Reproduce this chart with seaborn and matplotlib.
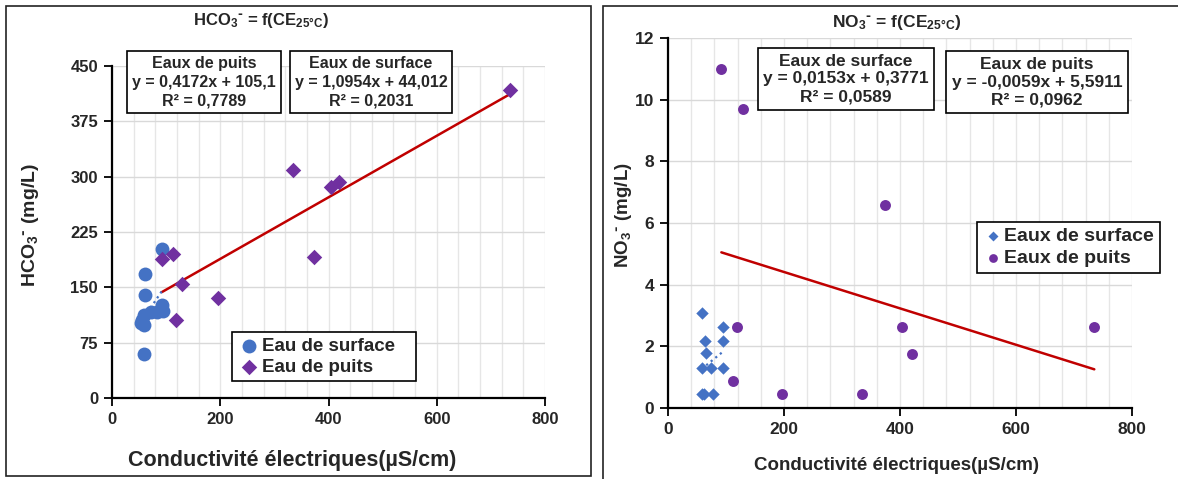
import matplotlib
matplotlib.use('Agg')
import matplotlib.pyplot as plt
import seaborn as sns
import numpy as np
import pandas as pd
from matplotlib.patches import Rectangle
from matplotlib.ticker import MultipleLocator

# ---------------- data ----------------
# HCO3 chart
ce_surf_hco3 = [92, 61, 61, 93, 94, 84, 72, 59, 56, 53, 59, 59]
hco3_surf = [202, 168, 140, 126, 118, 117, 116, 112, 106, 101, 99, 60]
ce_puits = [92, 112, 119, 129, 196, 334, 374, 404, 420, 735]
hco3_puits = [188, 195, 106, 154, 135, 309, 191, 286, 293, 417]
# NO3 chart
ce_surf_no3 = [59, 94, 63, 94, 65, 59, 74, 94, 58, 62, 78]
no3_surf = [3.07, 2.64, 2.18, 2.18, 1.77, 1.29, 1.29, 1.29, 0.44, 0.44, 0.44]
no3_puits = [11.0, 0.88, 2.63, 9.69, 0.44, 0.44, 6.58, 2.63, 1.75, 2.63]
# trend-line coefficients (slope, intercept)
hco3_fit_puits = [0.4172, 105.1]
hco3_fit_surf = [1.0954, 44.012]
no3_fit_surf = [0.0153, 0.3771]
no3_fit_puits = [-0.0059, 5.5911]

df_h_s = pd.DataFrame({'CE': ce_surf_hco3, 'V': hco3_surf})
df_h_p = pd.DataFrame({'CE': ce_puits, 'V': hco3_puits})
df_n_s = pd.DataFrame({'CE': ce_surf_no3, 'V': no3_surf})
df_n_p = pd.DataFrame({'CE': ce_puits, 'V': no3_puits})

BLUE = '#4472C4'
PURPLE = '#7030A0'
RED = '#C00000'

sns.set_theme(style='white')
plt.rcParams['font.family'] = ['Liberation Sans', 'DejaVu Sans']
plt.rcParams['font.weight'] = 'bold'
plt.rcParams['mathtext.default'] = 'regular'

W, H = 1178, 479
fig = plt.figure(figsize=(W / 100, H / 100), dpi=100)
fig.patch.set_facecolor('white')

def fx(px):
    return px / W

def fy(py):
    return 1 - py / H

# panel borders
fig.add_artist(Rectangle((fx(6), fy(476)), fx(591) - fx(6), fy(6) - fy(476),
                         transform=fig.transFigure, fill=False, edgecolor='#222222', lw=1.2))
fig.add_artist(Rectangle((fx(603), fy(485)), fx(1190) - fx(603), fy(6) - fy(485),
                         transform=fig.transFigure, fill=False, edgecolor='#222222', lw=1.2))

axL = fig.add_axes([fx(112), fy(398), fx(545) - fx(112), fy(66) - fy(398)])
axR = fig.add_axes([fx(668), fy(408), fx(1132) - fx(668), fy(38) - fy(408)])

def fit_line(ax, xs, coef, color, ls, lw):
    x = np.array([min(xs), max(xs)], dtype=float)
    ax.plot(x, coef[0] * x + coef[1], color=color, ls=ls, lw=lw, zorder=2, label='_nolegend_')

def style_axis(ax, ymax, ystep, fs):
    ax.set_xlim(0, 800)
    ax.set_ylim(0, ymax)
    ax.xaxis.set_major_locator(MultipleLocator(200))
    ax.xaxis.set_minor_locator(MultipleLocator(40))
    ax.yaxis.set_major_locator(MultipleLocator(ystep))
    ax.grid(False)
    ax.grid(True, which='minor', axis='x', color='#e6e6e6', lw=1.0)
    ax.grid(True, which='major', axis='x', color='#e6e6e6', lw=1.0)
    ax.grid(True, which='major', axis='y', color='#d9d9d9', lw=1.0)
    ax.set_axisbelow(True)
    for s in ['top', 'right']:
        ax.spines[s].set_visible(False)
    for s in ['left', 'bottom']:
        ax.spines[s].set_color('black')
        ax.spines[s].set_linewidth(1.6)
    ax.tick_params(axis='both', which='major', direction='out', length=6, width=1.3,
                   color='black', labelsize=fs, pad=4, left=True, bottom=True)
    ax.tick_params(axis='both', which='minor', length=0)
    for lab in ax.get_xticklabels() + ax.get_yticklabels():
        lab.set_fontweight('bold')

box = dict(boxstyle='square,pad=0.3', facecolor='white', edgecolor='black', lw=1.2)

# ---------------- left: HCO3 ----------------
sns.scatterplot(data=df_h_s, x='CE', y='V', ax=axL, color=BLUE, marker='o', s=100,
                edgecolor=BLUE, linewidth=0, label='Eau de surface   ', zorder=3)
sns.scatterplot(data=df_h_p, x='CE', y='V', ax=axL, color=PURPLE, marker='D', s=62,
                edgecolor=PURPLE, linewidth=0, label='Eau de puits', zorder=3)
fit_line(axL, ce_puits, hco3_fit_puits, RED, '-', 1.8)
fit_line(axL, ce_surf_hco3, hco3_fit_surf, BLUE, ':', 1.6)
style_axis(axL, 450, 75, 12)
axL.set_xlabel('Conductivité électriques(µS/cm)', fontsize=15.5, fontweight='bold')
axL.set_ylabel(r'HCO$_3$$^{\text{-}}$ (mg/L)', fontsize=14, fontweight='bold')
axL.xaxis.set_label_coords((292 - 112) / 433, (398 - 450) / 332)
axL.yaxis.set_label_coords((41 - 112) / 433, 0.52)
legL = axL.legend(loc='upper left', bbox_to_anchor=(fx(232), fy(332)),
                  bbox_transform=fig.transFigure, borderaxespad=0, fancybox=False,
                  edgecolor='black', framealpha=1, prop={'size': 13.5, 'weight': 'bold'},
                  handletextpad=0.1, handlelength=1.2, borderpad=0.3, labelspacing=0.2,
                  markerscale=1.0)
legL.get_frame().set_linewidth(1.2)

fig.text(fx(261), fy(21), r'HCO$_3$$^{\text{-}}$ = f(CE$_{25°C}$)', ha='center', va='center',
         fontsize=12, fontweight='bold')
fig.text(fx(204), fy(82), 'Eaux de puits\ny = 0,4172x + 105,1\nR² = 0,7789',
         ha='center', va='center', fontsize=11.5, fontweight='bold', linespacing=1.3, bbox=box)
fig.text(fx(371), fy(82), 'Eaux de surface\ny = 1,0954x + 44,012\nR² = 0,2031',
         ha='center', va='center', fontsize=11.5, fontweight='bold', linespacing=1.3, bbox=box)

# ---------------- right: NO3 ----------------
sns.scatterplot(data=df_n_s, x='CE', y='V', ax=axR, color=BLUE, marker='D', s=40,
                edgecolor=BLUE, linewidth=0, label='Eaux de surface', zorder=3)
sns.scatterplot(data=df_n_p, x='CE', y='V', ax=axR, color=PURPLE, marker='o', s=62,
                edgecolor=PURPLE, linewidth=0, label='Eaux de puits', zorder=3)
fit_line(axR, ce_puits, no3_fit_puits, RED, '-', 1.8)
fit_line(axR, ce_surf_no3, no3_fit_surf, BLUE, ':', 1.6)
style_axis(axR, 12, 2, 12.5)
axR.set_xlabel('Conductivité électriques(µS/cm)', fontsize=13.5, fontweight='bold')
axR.set_ylabel(r'NO$_3$$^{\text{-}}$ (mg/L)', fontsize=13.5, fontweight='bold')
axR.xaxis.set_label_coords((897 - 668) / 464, (408 - 457) / 370)
axR.yaxis.set_label_coords((634 - 668) / 464, 0.52)
legR = axR.legend(loc='upper left', bbox_to_anchor=(fx(977), fy(222)),
                  bbox_transform=fig.transFigure, borderaxespad=0, fancybox=False,
                  edgecolor='black', framealpha=1, prop={'size': 14, 'weight': 'bold'},
                  handletextpad=0.1, handlelength=1.0, borderpad=0.3, labelspacing=0.2,
                  markerscale=0.8)
legR.get_frame().set_linewidth(1.2)

fig.text(fx(897), fy(22), r'NO$_3$$^{\text{-}}$ = f(CE$_{25°C}$)', ha='center', va='center',
         fontsize=12.5, fontweight='bold')
fig.text(fx(846), fy(79), 'Eaux de surface\ny = 0,0153x + 0,3771\nR² = 0,0589',
         ha='center', va='center', fontsize=12.5, fontweight='bold', linespacing=1.25, bbox=box)
fig.text(fx(1037), fy(82), 'Eaux de puits\ny = -0,0059x + 5,5911\nR² = 0,0962',
         ha='center', va='center', fontsize=12.5, fontweight='bold', linespacing=1.25, bbox=box)

fig.savefig('out.png', dpi=100, facecolor='white')
